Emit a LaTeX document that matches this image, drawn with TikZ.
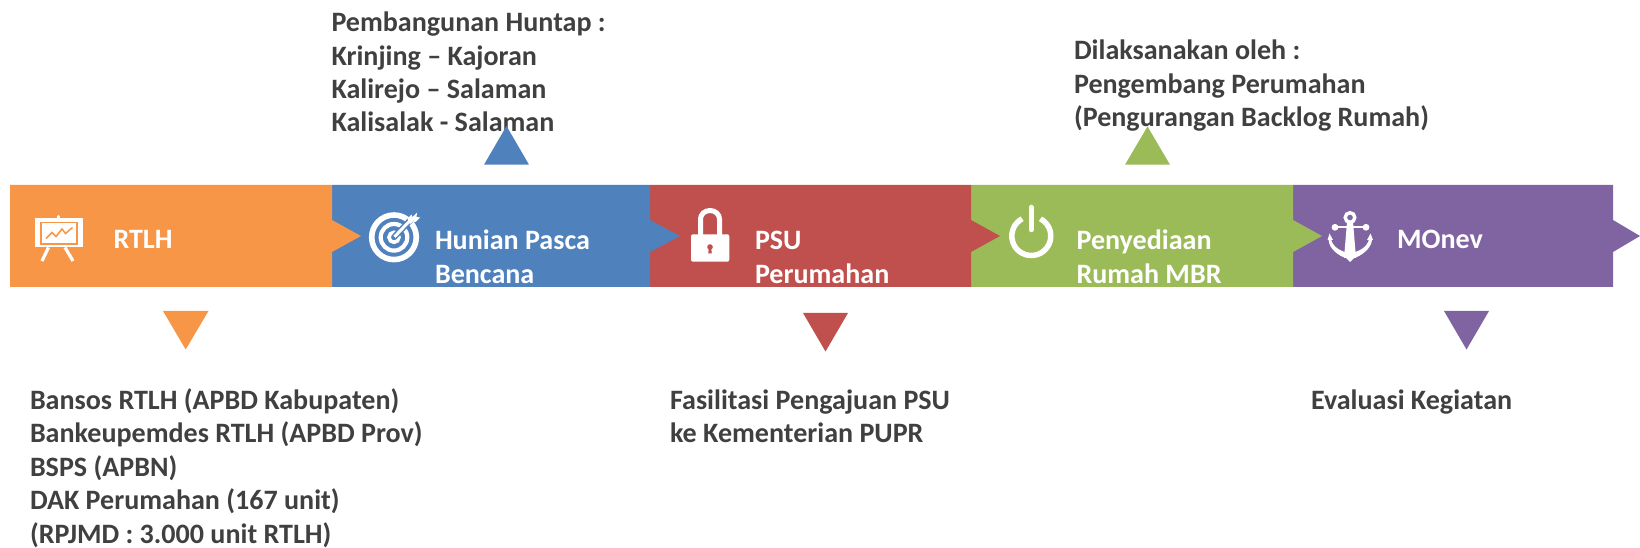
\documentclass[tikz,border=0pt]{standalone}
\usepackage{fontspec}
\setmainfont{Carlito}
\definecolor{cOrange}{HTML}{F79646}
\definecolor{cBlue}{HTML}{4F81BD}
\definecolor{cRed}{HTML}{C0504D}
\definecolor{cGreen}{HTML}{9BBB59}
\definecolor{cPurple}{HTML}{8064A2}
\definecolor{cText}{HTML}{404040}
\newcommand{\fb}{\rule{0pt}{20pt}}
\tikzset{
  bandtext/.style={anchor=north west,inner sep=0pt,outer sep=0pt,align=left,yshift=20pt,text=white,
    font=\fontsize{21.05}{25.2}\selectfont\bfseries},
  notetext/.style={bandtext,text=cText},
  px/.style={line width=#1*0.75pt},
}
\begin{document}
\begin{tikzpicture}[x=0.75pt,y=-0.75pt]
\useasboundingbox (0,0) rectangle (1640,548);
% band, right to left so that each point lies over the next colour
\fill[cPurple] (1293,185) -- (1613,185) -- (1613,220) -- (1640,236) -- (1613,252) -- (1613,287) -- (1293,287) -- cycle;
\fill[cGreen] (971,185) -- (1293,185) -- (1293,220) -- (1322,236) -- (1293,252) -- (1293,287) -- (971,287) -- cycle;
\fill[cRed] (650,185) -- (971,185) -- (971,220) -- (1000,236) -- (971,252) -- (971,287) -- (650,287) -- cycle;
\fill[cBlue] (332,185) -- (650,185) -- (650,220) -- (680,236) -- (650,252) -- (650,287) -- (332,287) -- cycle;
\fill[cOrange] (10,185) -- (332,185) -- (332,220) -- (361,236) -- (332,252) -- (332,287) -- (10,287) -- cycle;
% band labels
\node[bandtext] (lRtlh) at (113.5,249) {\fb RTLH};
\node[bandtext] (lHunian) at (435,250) {\fb Hunian Pasca\\Bencana};
\node[bandtext] (lPsu) at (755,249.5) {\fb PSU\\Perumahan};
\node[bandtext] (lMbr) at (1076.5,249.5) {\fb Penyediaan\\Rumah MBR};
\node[bandtext] (lMonev) at (1397,249) {\fb MOnev};
% notes
\node[notetext] (nTop1) at (331.5,32) {\fb Pembangunan Huntap :\\[-0.25pt]Krinjing -- Kajoran\\[-0.25pt]Kalirejo -- Salaman\\[-0.25pt]Kalisalak - Salaman};
\node[notetext] (nTop2) at (1074,59.5) {\fb Dilaksanakan oleh :\\Pengembang Perumahan\\(Pengurangan Backlog Rumah)};
\node[notetext] (nBot1) at (30,409) {\fb Bansos RTLH (APBD Kabupaten)\\Bankeupemdes RTLH (APBD Prov)\\BSPS (APBN)\\DAK Perumahan (167 unit)\\(RPJMD : 3.000 unit RTLH)};
\node[notetext] (nBot2) at (670,409) {\fb Fasilitasi Pengajuan PSU\\ke Kementerian PUPR};
\node[notetext] (nBot3) at (1311,409) {\fb Evaluasi Kegiatan};
% triangles
\fill[cOrange] (163,311) -- (208.5,311) -- (185.7,349.5) -- cycle;
\fill[cRed] (803,313) -- (848,313) -- (825.5,351.5) -- cycle;
\fill[cPurple] (1444,311) -- (1489,311) -- (1466.5,349.5) -- cycle;
\fill[cBlue] (484,164.7) -- (529,164.7) -- (506.5,126) -- cycle;
\fill[cGreen] (1125,164.7) -- (1170,164.7) -- (1147.5,126.5) -- cycle;
% easel icon
\fill[white] (35,218) rectangle (82.5,247.5);
\draw[white,px=3.4,line cap=round] (58.5,218) -- (58.5,216.5);
\draw[cOrange,px=1.8] (41,222.5) rectangle (77,244);
\draw[cOrange,px=1.5] (46,238.5) -- (52,232.5) -- (56,236.5) -- (62,229) -- (65.5,233.5) -- (72.5,227.5);
\draw[white,px=3.2] (48.5,247.5) -- (42,261);
\draw[white,px=3.2] (65,247.5) -- (73,261);
% target icon
\draw[white,px=5.6] (394,237.3) circle[radius=22.3];
\draw[white,px=4.2] (394,237.3) circle[radius=13.3];
\draw[white,px=3.6] (394,237.3) circle[radius=5];
\draw[cBlue,px=6] (394,237.3) -- (411,219.5);
\draw[white,px=3] (394.5,236.8) -- (411,219.5);
\fill[white] (407.5,218.5) -- (411.5,214.5) -- (412.5,217) -- (417,212.5) -- (416.5,217) -- (420,217.5) -- (415.5,222) -- (413,221.5) -- (410,224) -- cycle;
% padlock icon
\draw[white,px=5] (700.5,236) -- (700.5,219) arc[start angle=180,delta angle=180,x radius=9.5,y radius=8.5] -- (719.5,236);
\fill[white,rounded corners=1.5pt] (691,234.3) rectangle (729.3,261.7);
\fill[cRed] (710,247) circle[radius=2.8];
\fill[cRed] (708.8,248) -- (711.2,248) -- (711.8,253.5) -- (708.2,253.5) -- cycle;
% power icon
\draw[white,px=5.5] (1040.45,218.8) arc[start angle=-62,delta angle=304,radius=19.5];
\draw[white,px=5.5,line cap=round] (1031.3,207.5) -- (1031.3,229.5);
% anchor icon
\draw[white,px=3.4] (1350,217.5) circle[radius=4.8];
\draw[white,px=2] (1335,227.3) -- (1366,227.3);
\fill[white] (1335,227.3) circle[radius=3.4];
\fill[white] (1366,227.3) circle[radius=3.4];
\fill[white] (1347,222) -- (1353,222) -- (1356,258) -- (1344,258) -- cycle;
\fill[white] (1327.5,240) -- (1329.5,233.5) -- (1333,240) -- (1331.3,240)
  .. controls (1333,247) and (1341,252) .. (1350,253)
  .. controls (1359,252) and (1367,247) .. (1368.8,240)
  -- (1367,240) -- (1370.5,233.5) -- (1373,240) -- (1372,240)
  .. controls (1371,249) and (1361,256) .. (1354,258) -- (1350,262) -- (1346,258)
  .. controls (1339,256) and (1329,249) .. (1328.6,240) -- cycle;
\end{tikzpicture}
\end{document}
